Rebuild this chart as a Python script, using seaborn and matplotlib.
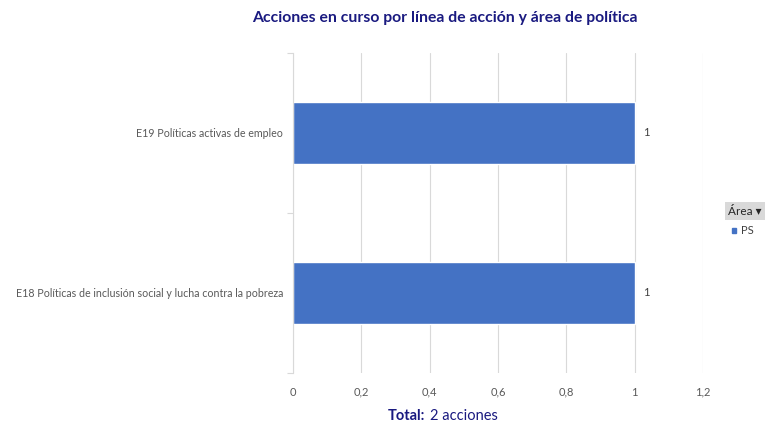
import numpy as np
import pandas as pd
import matplotlib
matplotlib.use("Agg")
import matplotlib.pyplot as plt
import seaborn as sns

# --- DATOS ---
lineas = ["E19 Políticas activas de empleo",
          "E18 Políticas de inclusión social y lucha contra la pobreza"]
acciones = [1, 1]
area = ["PS", "PS"]
xticks = [0, 0.2, 0.4, 0.6, 0.8, 1, 1.2]
xticklabels = ["0", "0,2", "0,4", "0,6", "0,8", "1", "1,2"]

df = pd.DataFrame({"linea": lineas, "acciones": acciones, "Área": area})

sns.set_style("white")
plt.rcParams["font.family"] = ["Lato", "DejaVu Sans"]

navy = "#1a1a80"
gray_txt = "#595959"
grid_col = "#d9d9d9"

fig = plt.figure(figsize=(7.66, 4.25), dpi=100)
ax = fig.add_axes([0.3825, 0.1224, 0.5353, 0.7529])

sns.barplot(data=df, x="acciones", y="linea", hue="Área", orient="h",
            palette=["#4472c4"], saturation=1, width=0.39, ax=ax, legend=False)

ax.set_xlim(0, 1.2)
ax.set_xticks(xticks)
ax.set_xticklabels(xticklabels, color=gray_txt, fontsize=8)
ax.tick_params(axis="x", length=0, pad=10)
ax.xaxis.grid(True, color=grid_col, linewidth=0.8)
ax.set_axisbelow(True)
ax.set_xlabel("")
ax.set_ylabel("")

# separadores de categoría en el eje y
ax.set_yticks([-0.5, 0.5, 1.5], minor=True)
ax.tick_params(axis="y", which="minor", length=4, color=grid_col, width=0.8, left=True)
ax.tick_params(axis="y", which="major", length=0, pad=7, labelsize=7.7, labelcolor=gray_txt)
for s in ["top", "right", "bottom"]:
    ax.spines[s].set_visible(False)
ax.spines["left"].set_color(grid_col)
ax.spines["left"].set_linewidth(0.8)

for i, v in enumerate(acciones):
    ax.text(v + 0.025, i, str(v), va="center", ha="left", fontsize=8, color="#404040")

fig.text(0.581, 0.957, "Acciones en curso por línea de acción y área de política",
         ha="center", va="center", fontsize=11.3, fontweight="bold", color=navy)

fig.text(0.555, 0.004, "Total:", ha="right", va="bottom", fontsize=10.5,
         fontweight="bold", color=navy)
fig.text(0.561, 0.004, "2 acciones", ha="left", va="bottom", fontsize=10.5, color=navy)

# leyenda
fig.text(0.951, 0.503, "Área \u25be", ha="left", va="center", fontsize=8.5,
         color="#262626", bbox=dict(facecolor="#d9d9d9", edgecolor="none", pad=2.5))
fig.patches.append(plt.Rectangle((0.955, 0.452), 0.006, 0.011, color="#4472c4",
                                 transform=fig.transFigure, figure=fig))
fig.text(0.967, 0.458, area[0], ha="left", va="center", fontsize=8, color="#404040")

fig.savefig("out.png", dpi=100)
